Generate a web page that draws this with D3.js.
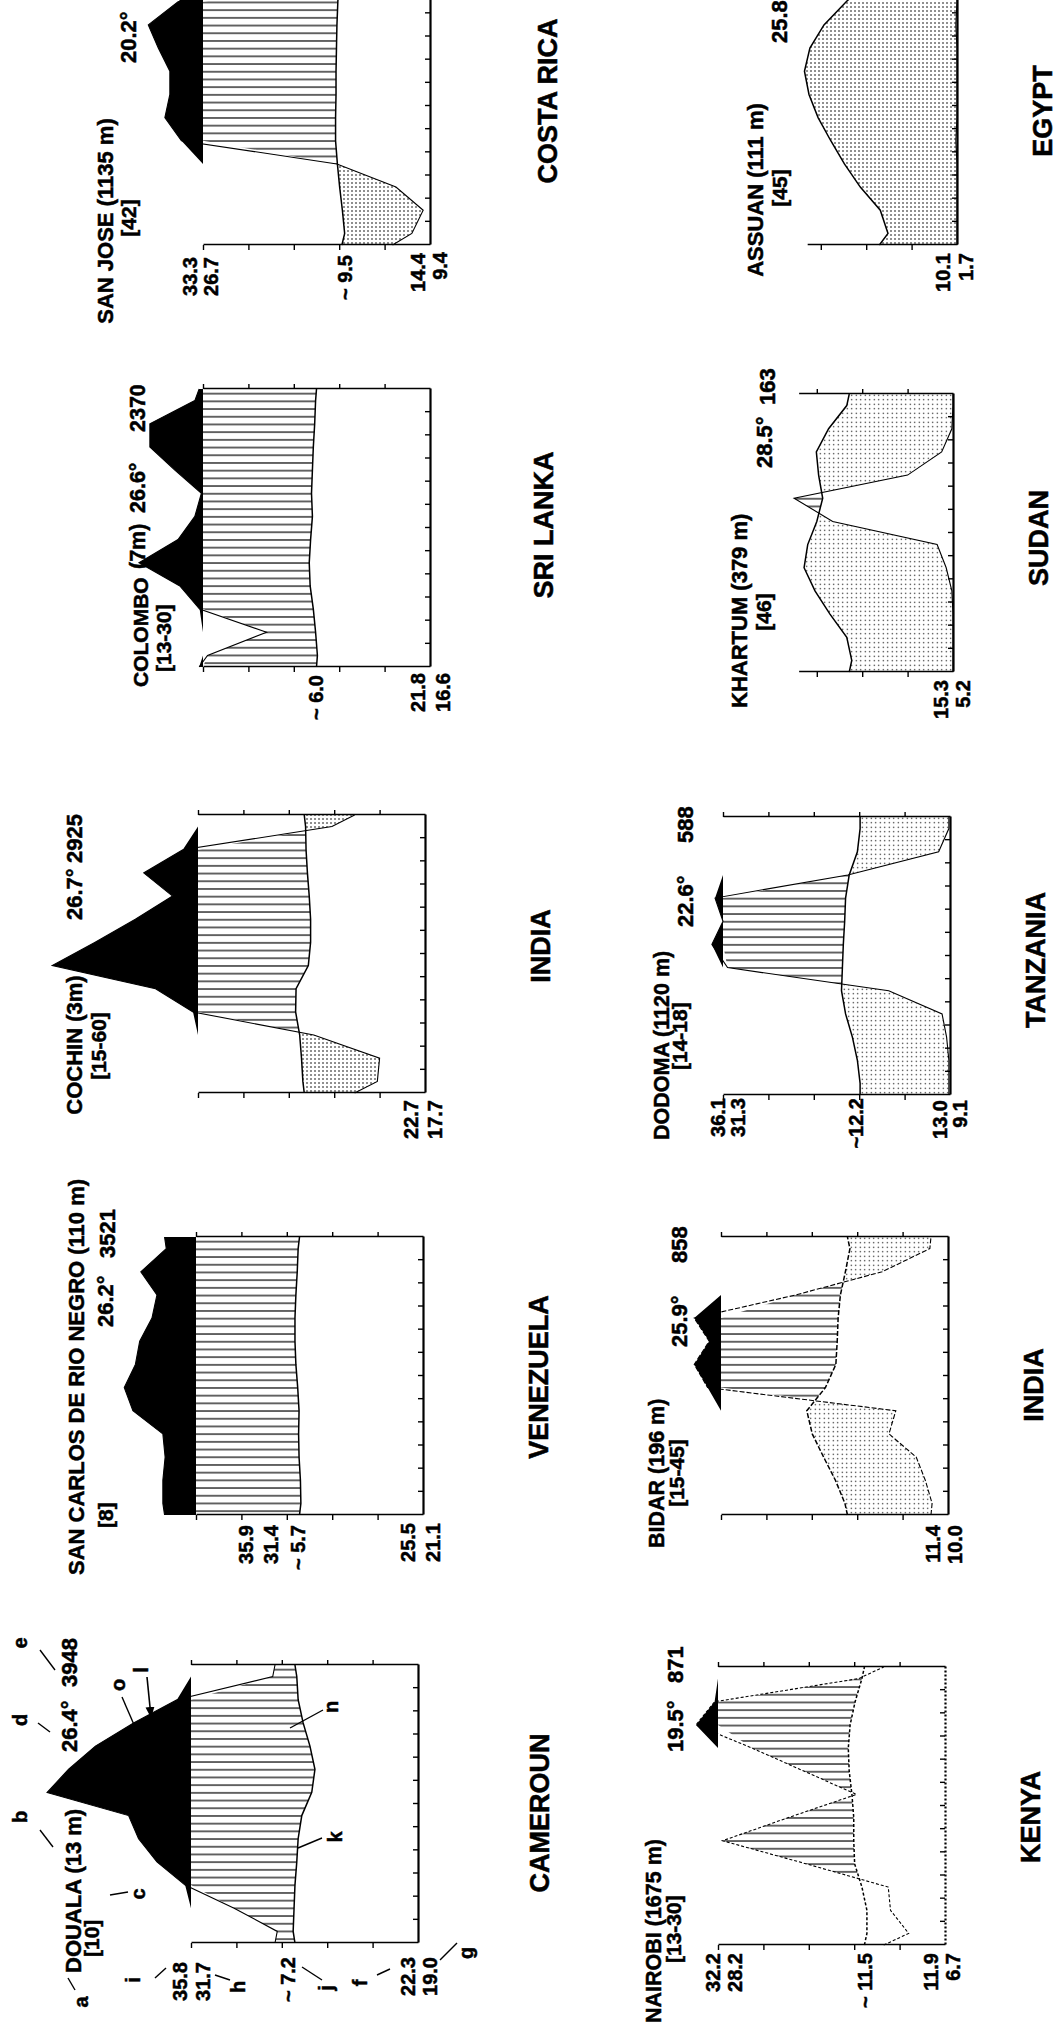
<!DOCTYPE html>
<html>
<head>
<meta charset="utf-8">
<script src="https://cdn.jsdelivr.net/npm/d3@7"></script>
<style>
body { margin: 0; background: #fff; }
svg { display: block; }
text { font-family: "Liberation Sans", Arial, sans-serif; font-weight: bold; fill: #000;
       stroke: #000; stroke-width: 0.5px; }
</style>
</head>
<body>
<div id="art"></div>
<script>
// monthly means, in plotted order
// (northern stations Jan..Dec, southern stations Jul..Jun)
var monthsNorth = ["J","F","M","A","M","J","J","A","S","O","N","D"];
var monthsSouth = ["J","A","S","O","N","D","J","F","M","A","M","J"];

var tSanJose   = [18.8, 19.3, 19.9, 20.4, 20.8, 20.8, 20.7, 20.7, 20.6, 20.5, 20.3, 20.0];
var pSanJose   = [8, 3, 15, 41, 195, 268, 246, 246, 297, 341, 210, 25];
var tColombo   = [24.8, 25.2, 25.7, 26.4, 26.6, 26.3, 25.9, 26.1, 25.9, 25.7, 25.4, 25.2];
var pColombo   = [98, 72, 115, 202, 382, 210, 136, 107, 224, 334, 334, 136];
var tCochin    = [26.9, 27.2, 27.6, 28.5, 28.4, 25.7, 25.2, 25.2, 25.5, 25.9, 26.2, 26.3];
var pCochin    = [21, 20, 49, 122, 287, 742, 555, 376, 212, 339, 167, 41];
var tSanCarlos = [26.9, 27.0, 27.3, 27.4, 27.3, 27.6, 28.0, 28.2, 28.2, 28.0, 27.7, 27.5];
var pSanCarlos = [246, 246, 236, 246, 378, 416, 367, 348, 294, 272, 343, 231];
var tDouala    = [27.5, 27.3, 27.1, 26.7, 26.4, 25.6, 23.4, 22.7, 23.8, 25.3, 26.4, 26.7];
var pDouala    = [62, 81, 126, 250, 331, 375, 734, 639, 521, 353, 162, 64];
var tAssuan    = [15.2, 16.9, 21.3, 24.8, 27.8, 30.6, 32.6, 33.6, 32.4, 29.3, 24.4, 19.0];
var pAssuan    = [0, 0, 0, 0, 0.5, 0, 0, 0, 0, 0.5, 0, 0];
var tKhartum   = [22.3, 23.4, 27.1, 30.4, 32.8, 32.0, 30.0, 28.7, 29.6, 30.1, 27.4, 23.4];
var pKhartum   = [0, 0, 0, 0.5, 3, 7, 53, 70, 20, 5, 0.5, 0];
var tDodoma    = [19.8, 20.4, 21.5, 23.0, 23.9, 23.7, 23.5, 23.2, 23.0, 22.2, 20.4, 19.8];
var pDodoma    = [0.5, 0.5, 1.5, 3.5, 27, 98, 149, 100, 135, 45, 5, 0.5];
var tBidar     = [22.7, 24.8, 27.4, 29.9, 31.1, 27.0, 24.7, 24.4, 24.2, 23.7, 22.6, 21.6];
var pBidar     = [7, 10, 14, 26, 23, 159, 218, 152, 218, 67, 29, 8];
var tNairobi   = [17.2, 17.2, 18.3, 19.9, 20.1, 20.1, 20.5, 21.1, 21.3, 20.9, 19.8, 18.3];
var pNairobi   = [16, 24, 25, 61, 98, 69, 39, 62, 85, 197, 115, 38];

// where each diagram sits (0-line x, first-month edge y), axis height, arid fill
var panels = [
  {t: tSanJose,   p: pSanJose,   ox: 430, oy: 245,  top: 50, dots: "dense"},
  {t: tColombo,   p: pColombo,   ox: 430, oy: 667,  top: 50, dots: "dense"},
  {t: tCochin,    p: pCochin,    ox: 425, oy: 1093, top: 50, dots: "dense"},
  {t: tSanCarlos, p: pSanCarlos, ox: 423, oy: 1515, top: 50, dots: "dense"},
  {t: tDouala,    p: pDouala,    ox: 418, oy: 1943, top: 50, dots: "dense"},
  {t: tAssuan,    p: pAssuan,    ox: 957, oy: 245,  top: 33, dots: "dense"},
  {t: tKhartum,   p: pKhartum,   ox: 953, oy: 672,  top: 34, dots: "light"},
  {t: tDodoma,    p: pDodoma,    ox: 950, oy: 1095, top: 50, dots: "light"},
  {t: tBidar,     p: pBidar,     ox: 948, oy: 1515, top: 50, dots: "light", dash: "5,2"},
  {t: tNairobi,   p: pNairobi,   ox: 945, oy: 1945, top: 50, dots: "none",  dash: "3,2"}
];

// [text, baseline x, y, anchor, size]  (text runs bottom to top)
var labels = [
  ["SAN JOSE (1135 m)", 113, 221, "middle", 22], ["[42]", 136, 218, "middle", 21], ["20.2°", 136, 63, "start", 22],
  ["33.3", 197, 257, "end", 20], ["26.7", 218, 257, "end", 20], ["~ 9.5", 352, 255, "end", 20],
  ["14.4", 425, 253, "end", 20], ["9.4", 447, 252, "end", 20], ["COSTA RICA", 557, 101, "middle", 27],

  ["COLOMBO", 148, 687, "start", 21], ["(7m)", 145, 569, "start", 21.5], ["26.6°", 145, 513, "start", 21.5],
  ["2370", 145, 432, "start", 21.5], ["[13-30]", 171, 672, "start", 21], ["~ 6.0", 323, 675, "end", 20],
  ["21.8", 425, 673, "end", 20], ["16.6", 450, 673, "end", 20], ["SRI LANKA", 553, 525, "middle", 27],

  ["COCHIN (3m)", 82, 1045, "middle", 22], ["[15-60]", 106, 1046, "middle", 21], ["26.7°", 82, 920, "start", 22],
  ["2925", 82, 863, "start", 22], ["22.7", 418, 1100, "end", 20], ["17.7", 442, 1100, "end", 20],
  ["INDIA", 550, 946, "middle", 27],

  ["SAN CARLOS DE RIO NEGRO (110 m)", 84, 1575, "start", 22], ["[8]", 113, 1528, "start", 21],
  ["26.2°", 113, 1327, "start", 22], ["3521", 115, 1258, "start", 22], ["35.9", 253, 1525, "end", 20],
  ["31.4", 278, 1525, "end", 20], ["~ 5.7", 305, 1525, "end", 20], ["25.5", 415, 1523, "end", 20],
  ["21.1", 440, 1523, "end", 20], ["VENEZUELA", 548, 1377, "middle", 27],

  ["DOUALA (13 m)", 81, 1973, "start", 22], ["[10]", 99, 1957, "start", 21], ["26.4°", 77, 1752, "start", 22],
  ["3948", 77, 1687, "start", 22], ["35.8", 187, 1962, "end", 20], ["31.7", 210, 1962, "end", 20],
  ["~ 7.2", 295, 1957, "end", 20], ["22.3", 415, 1957, "end", 20], ["19.0", 437, 1957, "end", 20],
  ["CAMEROUN", 549, 1813, "middle", 27],

  ["ASSUAN (111 m)", 763, 190, "middle", 22], ["[45]", 787, 188, "middle", 21], ["25.8°", 787, 43, "start", 22],
  ["10.1", 950, 253, "end", 20], ["1.7", 973, 253, "end", 20], ["EGYPT", 1052, 111, "middle", 27],

  ["KHARTUM (379 m)", 747, 708, "start", 22], ["[46]", 771, 612, "middle", 21], ["28.5°", 772, 468, "start", 22],
  ["163", 775, 405, "start", 22], ["15.3", 948, 680, "end", 20], ["5.2", 970, 680, "end", 20],
  ["SUDAN", 1048, 538, "middle", 27],

  ["DODOMA (1120 m)", 669, 1140, "start", 21.5], ["[14-18]", 687, 1070, "start", 21], ["22.6°", 693, 927, "start", 22],
  ["588", 693, 843, "start", 22], ["36.1", 725, 1098, "end", 20], ["31.3", 745, 1098, "end", 20],
  ["~12.2", 863, 1098, "end", 20], ["13.0", 947, 1100, "end", 20], ["9.1", 967, 1100, "end", 20],
  ["TANZANIA", 1045, 960, "middle", 27],

  ["BIDAR (196 m)", 664, 1548, "start", 21.5], ["[15-45]", 684, 1473, "middle", 21], ["25.9°", 687, 1347, "start", 22],
  ["858", 687, 1263, "start", 22], ["11.4", 940, 1525, "end", 20], ["10.0", 962, 1525, "end", 20],
  ["INDIA", 1043, 1385, "middle", 27],

  ["NAIROBI (1675 m)", 661, 2023, "start", 21.5], ["[13-30]", 681, 1963, "start", 21], ["19.5°", 683, 1752, "start", 22],
  ["871", 683, 1683, "start", 22], ["32.2", 720, 1953, "end", 20], ["28.2", 742, 1953, "end", 20],
  ["~ 11.5", 872, 1953, "end", 20], ["11.9", 938, 1953, "end", 20], ["6.7", 960, 1953, "end", 20],
  ["KENYA", 1040, 1817, "middle", 27]
];

// key letters on the Douala diagram and their leader strokes
var keyLetters = [
  ["a", 88, 2002], ["b", 27, 1817], ["c", 145, 1894], ["d", 27, 1720], ["e", 27, 1643],
  ["o", 125, 1685], ["l", 148, 1670], ["n", 338, 1707], ["k", 342, 1837], ["i", 140, 1980],
  ["h", 245, 1987], ["j", 333, 1988], ["f", 367, 1983], ["g", 473, 1953]
];
var leaders = [
  [75, 1990, 68, 1978], [40, 1830, 53, 1847], [110, 1895, 128, 1892], [38, 1723, 50, 1732],
  [40, 1650, 55, 1670], [122, 1697, 135, 1727], [323, 1710, 290, 1728], [322, 1838, 298, 1848],
  [155, 1978, 166, 1968], [215, 1975, 230, 1980], [302, 1967, 322, 1980], [377, 1975, 390, 1969],
  [440, 1960, 457, 1943]
];

var monthW = 278 / 12, degPx = 4.54;

var svg = d3.select("#art").append("svg").attr("width", 1061).attr("height", 2026);
svg.append("rect").attr("width", 1061).attr("height", 2026).attr("fill", "#fff");
var defs = svg.append("defs");

var hatch = defs.append("pattern").attr("id", "hatch").attr("patternUnits", "userSpaceOnUse")
  .attr("width", 7.7).attr("height", 8);
hatch.append("rect").attr("width", 7.7).attr("height", 8).attr("fill", "#fff");
hatch.append("line").attr("x1", 3.85).attr("x2", 3.85).attr("y1", 0).attr("y2", 8)
  .attr("stroke", "#000").attr("stroke-width", 1.2);

function dotPattern(id, size, r) {
  var pt = defs.append("pattern").attr("id", id).attr("patternUnits", "userSpaceOnUse")
    .attr("width", size).attr("height", size);
  pt.append("rect").attr("width", size).attr("height", size).attr("fill", "#fff");
  pt.append("circle").attr("cx", size / 2).attr("cy", size / 2).attr("r", r).attr("fill", "#000");
}
dotPattern("dense", 4, 0.8);
dotPattern("light", 4.5, 0.65);

defs.append("marker").attr("id", "arrow").attr("viewBox", "0 0 10 10").attr("refX", 9).attr("refY", 5)
  .attr("markerWidth", 7).attr("markerHeight", 7).attr("orient", "auto")
  .append("path").attr("d", "M0,1L10,5L0,9Z").attr("fill", "#000");

panels.forEach(function(s, k) {
  var g = svg.append("g").attr("transform", "translate(" + s.ox + "," + s.oy + ") rotate(-90)");
  var x = d3.scaleLinear().domain([0, 12]).range([0, 12 * monthW]);
  var yT = d3.scaleLinear().domain([0, 50]).range([0, -50 * degPx]);
  var yP = d3.scaleLinear().domain([0, 100, 1000]).range([0, yT(50), yT(95)]);
  var top = yT(50);

  var n = s.t.length;
  var eT = (s.t[0] + s.t[n - 1]) / 2, eP = (s.p[0] + s.p[n - 1]) / 2;
  var pts = [{m: 0, t: eT, p: eP}];
  s.t.forEach(function(v, i) { pts.push({m: i + 0.5, t: v, p: s.p[i]}); });
  pts.push({m: 12, t: eT, p: eP});

  defs.append("clipPath").attr("id", "humid" + k).append("path")
    .attr("d", d3.area().x(function(d) { return x(d.m); }).y0(0)
      .y1(function(d) { return Math.max(yP(d.p), top); })(pts));
  defs.append("clipPath").attr("id", "arid" + k).append("path")
    .attr("d", d3.area().x(function(d) { return x(d.m); })
      .y0(function(d) { return yP(d.p); }).y1(-700)(pts));

  // humid season, hatched
  g.append("path")
    .attr("d", d3.area().x(function(d) { return x(d.m); })
      .y0(function(d) { return yT(d.t); }).y1(top)(pts))
    .attr("fill", "url(#hatch)").attr("clip-path", "url(#humid" + k + ")");

  // arid season, dotted
  if (s.dots !== "none") {
    g.append("path")
      .attr("d", d3.area().x(function(d) { return x(d.m); }).y0(0)
        .y1(function(d) { return yT(d.t); })(pts))
      .attr("fill", "url(#" + s.dots + ")").attr("clip-path", "url(#arid" + k + ")");
  }

  // rain above 100 mm, black
  g.append("path")
    .attr("d", d3.area().x(function(d) { return x(d.m); }).y0(top)
      .y1(function(d) { return Math.min(yP(d.p), top); })(pts))
    .attr("fill", "#000");

  g.append("path")
    .attr("d", d3.line().x(function(d) { return x(d.m); }).y(function(d) { return yP(d.p); })(pts))
    .attr("fill", "none").attr("stroke", "#000").attr("stroke-width", 1.1)
    .attr("stroke-dasharray", s.dash || null);
  g.append("path")
    .attr("d", d3.line().x(function(d) { return x(d.m); }).y(function(d) { return yT(d.t); })(pts))
    .attr("fill", "none").attr("stroke", "#000").attr("stroke-width", 1.5)
    .attr("stroke-dasharray", s.dash || null);

  var ya = d3.scaleLinear().domain([0, s.top]).range([0, yT(s.top)]);
  var tv = d3.range(10, s.top + 1, 10);
  var left = g.append("g")
    .call(d3.axisLeft(ya).tickValues(tv).tickSize(5).tickSizeOuter(0).tickFormat(""));
  var right = g.append("g").attr("transform", "translate(" + x(12) + ",0)")
    .call(d3.axisRight(ya).tickValues(tv).tickSize(5).tickSizeOuter(0).tickFormat(""));
  var base = g.append("g")
    .call(d3.axisTop(x).tickValues(d3.range(1, 12)).tickSize(5).tickSizeOuter(0).tickFormat(""));
  [left, right].forEach(function(a) {
    a.select(".domain").attr("stroke-width", 1.6);
    a.selectAll(".tick line").attr("stroke-width", 1.4);
  });
  base.select(".domain").attr("stroke-width", 2.2)
    .attr("stroke-dasharray", s.dots === "none" ? "2,2" : null);
  base.selectAll(".tick line").attr("stroke-width", 1.4);
});

svg.append("g").selectAll("text").data(labels).join("text")
  .attr("transform", function(d) { return "translate(" + d[1] + "," + d[2] + ") rotate(-90)"; })
  .attr("text-anchor", function(d) { return d[3]; })
  .style("font-size", function(d) { return d[4] + "px"; })
  .text(function(d) { return d[0]; });

svg.append("g").selectAll("text").data(keyLetters).join("text")
  .attr("transform", function(d) { return "translate(" + d[1] + "," + d[2] + ") rotate(-90)"; })
  .attr("text-anchor", "middle").style("font-size", "20px")
  .text(function(d) { return d[0]; });

svg.append("g").selectAll("line").data(leaders).join("line")
  .attr("x1", function(d) { return d[0]; }).attr("y1", function(d) { return d[1]; })
  .attr("x2", function(d) { return d[2]; }).attr("y2", function(d) { return d[3]; })
  .attr("stroke", "#000").attr("stroke-width", 1.4);

svg.append("line").attr("x1", 147).attr("y1", 1677).attr("x2", 151).attr("y2", 1717)
  .attr("stroke", "#000").attr("stroke-width", 1.6).attr("marker-end", "url(#arrow)");
</script>
</body>
</html>
